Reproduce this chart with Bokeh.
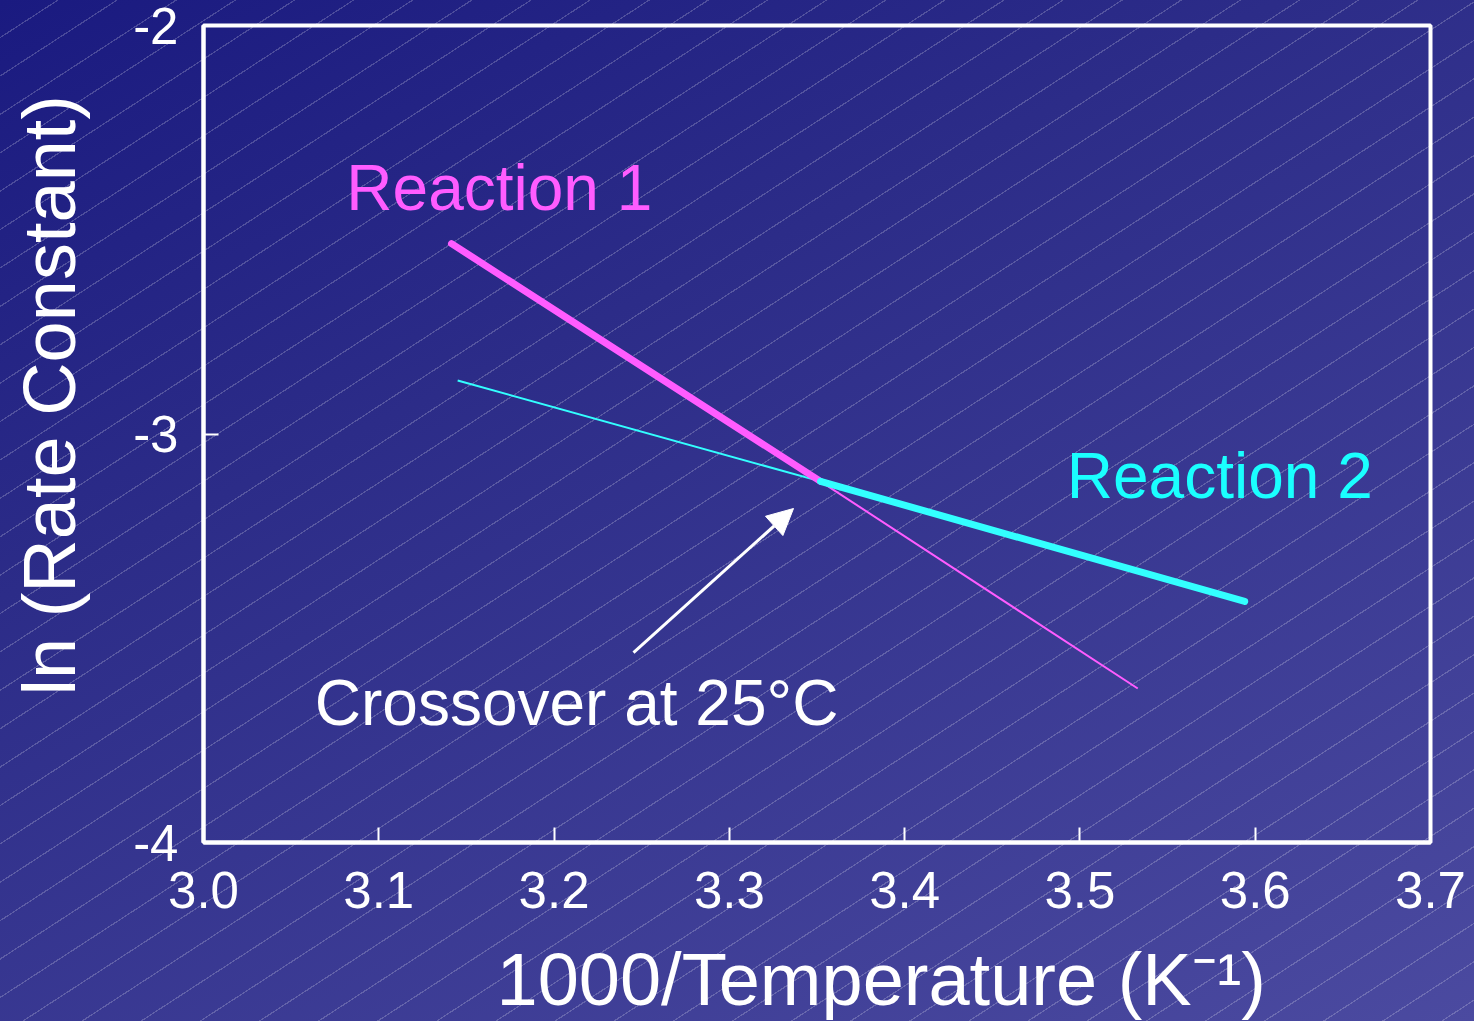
from bokeh.plotting import figure
from bokeh.models import Range1d, FixedTicker, PrintfTickFormatter, Label, Arrow, NormalHead, Title
from bokeh.embed import file_html
from bokeh.resources import INLINE

# ---- data ----
x_ticks = [3.0, 3.1, 3.2, 3.3, 3.4, 3.5, 3.6, 3.7]
y_ticks = [-4, -3, -2]

# Reaction 1: measured (thick) part and extrapolated (thin) part
r1_x_meas = [3.1415, 3.352]
r1_y_meas = [-2.534, -3.116]
r1_x_extr = [3.352, 3.533]
r1_y_extr = [-3.116, -3.623]

# Reaction 2: extrapolated (thin) part and measured (thick) part
r2_x_extr = [3.145, 3.352]
r2_y_extr = [-2.869, -3.116]
r2_x_meas = [3.352, 3.594]
r2_y_meas = [-3.116, -3.410]

# annotation anchors (data coordinates)
arrow_start = (3.2453, -3.535)
arrow_end = (3.3366, -3.1824)

FONT = "Liberation Sans"
MAGENTA = "#ff5cff"
CYAN = "#33ffff"

p = figure(width=1474, height=1021,
           x_range=Range1d(3.0, 3.7), y_range=Range1d(-4, -2),
           output_backend="svg", toolbar_location=None,
           min_border_left=203, min_border_right=44,
           min_border_top=25, min_border_bottom=179)

p.styles = {
    "position": "absolute", "left": "0px", "top": "0px",
    "background-image": (
        "repeating-linear-gradient(147deg, rgba(255,255,255,0) 0px, rgba(255,255,255,0) 31px, "
        "rgba(255,255,255,0.2) 31px, rgba(255,255,255,0.2) 32.2px), "
        "linear-gradient(155deg, #1a1a80 0%, #2c2c88 35%, #4b4aa0 100%)"
    ),
}
p.border_fill_color = None
p.background_fill_color = None
p.outline_line_color = "white"
p.outline_line_width = 4
p.grid.visible = False

for ax in (p.xaxis[0], p.yaxis[0]):
    ax.axis_line_color = "white"
    ax.axis_line_width = 4
    ax.major_tick_line_color = "white"
    ax.major_tick_line_width = 2
    ax.major_tick_in = 15
    ax.major_tick_out = 0
    ax.minor_tick_line_color = None
    ax.major_label_text_color = "white"
    ax.major_label_text_font = FONT
    ax.major_label_text_font_size = "51px"
    # invisible spacer label: pushes the axis titles outward
    ax.axis_label = " "
    ax.axis_label_text_font_size = "10px"

p.xaxis.ticker = FixedTicker(ticks=x_ticks)
p.xaxis.formatter = PrintfTickFormatter(format="%.1f")
p.xaxis.major_label_standoff = 29
p.xaxis.axis_label_standoff = 11
p.yaxis.ticker = FixedTicker(ticks=y_ticks)
p.yaxis.formatter = PrintfTickFormatter(format="%d")
p.yaxis.major_label_standoff = 25
p.yaxis.axis_label_standoff = 26

# thin (extrapolated) lines first
p.line(r1_x_extr, r1_y_extr, line_color=MAGENTA, line_width=2)
p.line(r2_x_extr, r2_y_extr, line_color=CYAN, line_width=2)
# thick (measured) lines
p.line(r1_x_meas, r1_y_meas, line_color=MAGENTA, line_width=7, line_cap="round")
p.line(r2_x_meas, r2_y_meas, line_color=CYAN, line_width=7, line_cap="round")

p.add_layout(Label(x=3.0815, y=-2.3966, text="Reaction 1", text_color=MAGENTA,
                   text_font=FONT, text_font_size="64px",
                   text_align="left", text_baseline="alphabetic"))
p.add_layout(Label(x=3.4925, y=-3.1016, text="Reaction 2", text_color="#1affff",
                   text_font=FONT, text_font_size="64px",
                   text_align="left", text_baseline="alphabetic"))
p.add_layout(Label(x=3.0635, y=-3.6573, text="Crossover at 25°C", text_color="white",
                   text_font=FONT, text_font_size="64px",
                   text_align="left", text_baseline="alphabetic"))

p.add_layout(Arrow(end=NormalHead(size=26, fill_color="white", line_color="white"),
                   x_start=arrow_start[0], y_start=arrow_start[1],
                   x_end=arrow_end[0], y_end=arrow_end[1],
                   line_color="white", line_width=3))

# axis titles
p.add_layout(Title(text="1000/Temperature (K⁻¹)", align="left", offset=293,
                   text_color="white", text_font=FONT, text_font_size="74px",
                   text_font_style="normal", standoff=0), "below")
p.add_layout(Title(text="ln (Rate Constant)", align="left", offset=147,
                   text_color="white", text_font=FONT, text_font_size="74px",
                   text_font_style="normal", standoff=0), "left")

open("out.html", "w").write(file_html(p, INLINE))
